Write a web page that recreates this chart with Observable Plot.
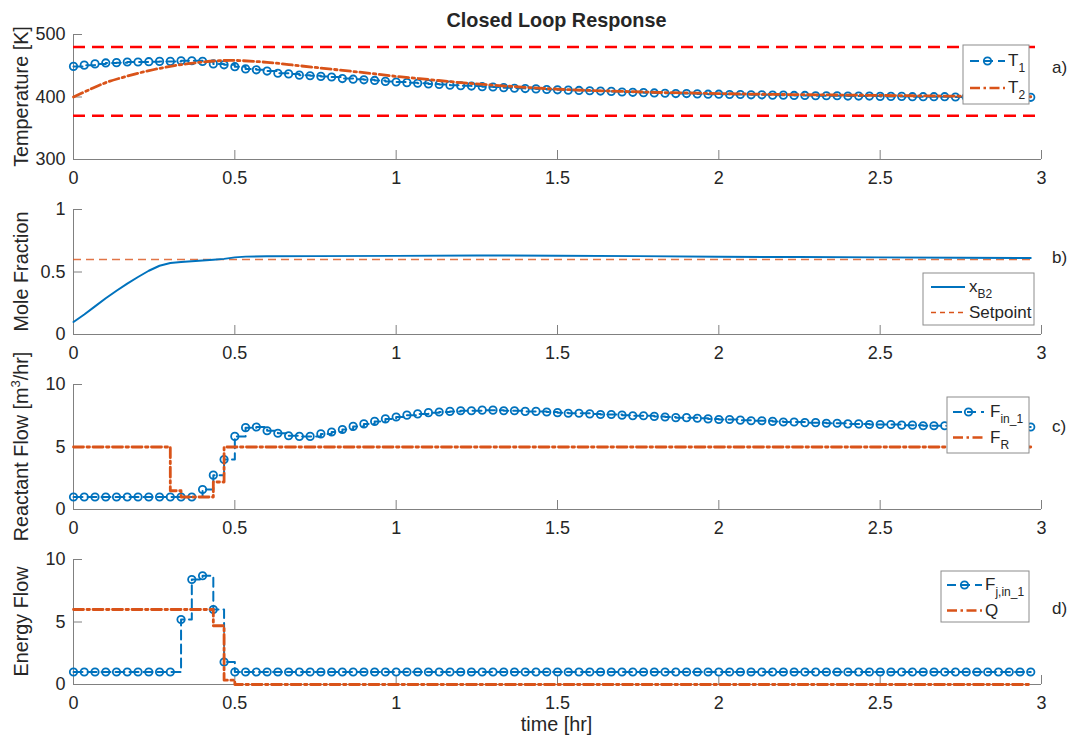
<!DOCTYPE html>
<html><head><meta charset="utf-8">
<script src="https://cdn.jsdelivr.net/npm/d3@7"></script>
<script src="https://cdn.jsdelivr.net/npm/@observablehq/plot@0.6"></script>
<style>
html,body{margin:0;padding:0;background:#fff;}
#fig{position:relative;width:1077px;height:742px;overflow:hidden;background:#fff;font-family:"Liberation Sans",Arial,sans-serif;}
#fig svg{position:absolute;left:0;}
</style></head><body><div id="fig"></div>
<script>
// ---------- data (time in minutes; plotted in hours) ----------
const sampleMinutes = [0,2,4,6,8,10,12,14,16,18,20,22,24,26,28,30,32,34,36,38,40,42,44,46,48,50,52,54,56,58,60,62,64,66,68,70,72,74,76,78,80,82,84,86,88,90,92,94,96,98,100,102,104,106,108,110,112,114,116,118,120,122,124,126,128,130,132,134,136,138,140,142,144,146,148,150,152,154,156,158,160,162,164,166,168,170,172,174,176,178];

const T1 = [449,451,453,454.5,455,456,456,456.5,457,457,
  458,458,457,453,451.5,448.5,445,443.5,441.5,438,
  437,435,434,433,432,429.5,428.5,427.5,426.5,425,
  424,423,422,421,420,419,418,417.5,416.5,416,
  415,414,413.5,413,412,411.5,411,410.5,410,409.5,
  409,408,407.5,407,406.5,406,405.5,405.5,405,404.5,
  404.5,404,404,403.5,403.5,403,403,402.5,402.5,402,
  402,402,401.5,401.5,401.5,401,401,401,400.5,400.5,
  400.5,400.5,400,400,400,400,399.5,399.5,399.5,399.5];

const T2Minutes = [0,3,6,9,12,15,18,21,24,27,30,36,42,48,54,60,66,72,78,84,90,96,102,108,114,120,132,144,156,168,178];
const T2 = [400,412,423,431,438,444,449,453,456,458,458.5,455.5,450,444.5,439,433,428,423,419,415.5,412.5,410.5,409,407.5,406.5,405.5,404,403,402,401,400.5];
const tempLimits = [480, 370];

const xB2Minutes = [0,2,4,6,8,10,12,14,16,18,20,22,24,26,28,30,32,36,45,60,75,90,105,120,135,150,165,178];
const xB2 = [0.10,0.16,0.225,0.29,0.35,0.407,0.46,0.51,0.55,0.572,0.58,0.586,0.592,0.598,0.605,0.617,0.623,0.626,0.627,0.629,0.632,0.631,0.627,0.622,0.62,0.617,0.614,0.612];
const setpoint = 0.6;

const Fin1 = [1,1,1,1,1,1,1,1,1,1,
  1,1,1.6,2.75,4.0,5.85,6.55,6.6,6.3,6.1,
  5.9,5.85,5.85,6.05,6.2,6.4,6.65,6.85,7.05,7.25,
  7.4,7.55,7.65,7.75,7.8,7.85,7.9,7.9,7.95,7.95,
  7.9,7.9,7.85,7.85,7.8,7.75,7.7,7.7,7.65,7.6,
  7.6,7.55,7.5,7.5,7.45,7.4,7.35,7.35,7.3,7.25,
  7.2,7.2,7.15,7.1,7.1,7.05,7.0,7.0,6.95,6.95,
  6.9,6.9,6.85,6.85,6.8,6.8,6.8,6.75,6.75,6.7,
  6.7,6.7,6.65,6.65,6.65,6.6,6.6,6.6,6.6,6.6];

const FR = [5,5,5,5,5,5,5,5,5,1.5,
  1,1,1,2.2,5,5,5,5,5,5,
  5,5,5,5,5,5,5,5,5,5,
  5,5,5,5,5,5,5,5,5,5,
  5,5,5,5,5,5,5,5,5,5,
  5,5,5,5,5,5,5,5,5,5,
  5,5,5,5,5,5,5,5,5,5,
  5,5,5,5,5,5,5,5,5,5,
  5,5,5,5,5,5,5,5,5,5];

const Fjin1 = [1,1,1,1,1,1,1,1,1,1,
  5.2,8.4,8.7,6.0,1.8,1,1,1,1,1,
  1,1,1,1,1,1,1,1,1,1,
  1,1,1,1,1,1,1,1,1,1,
  1,1,1,1,1,1,1,1,1,1,
  1,1,1,1,1,1,1,1,1,1,
  1,1,1,1,1,1,1,1,1,1,
  1,1,1,1,1,1,1,1,1,1,
  1,1,1,1,1,1,1,1,1,1];

const Q = [6,6,6,6,6,6,6,6,6,6,
  6,6,6,4.7,0.35,0,0,0,0,0,
  0,0,0,0,0,0,0,0,0,0,
  0,0,0,0,0,0,0,0,0,0,
  0,0,0,0,0,0,0,0,0,0,
  0,0,0,0,0,0,0,0,0,0,
  0,0,0,0,0,0,0,0,0,0,
  0,0,0,0,0,0,0,0,0,0,
  0,0,0,0,0,0,0,0,0,0];

const xTicks = [0,0.5,1,1.5,2,2.5,3];
const yTicksA = [300,400,500], yTicksB = [0,0.5,1], yTicksC = [0,5,10], yTicksD = [0,5,10];

// ---------- style ----------
const BLUE="#0072BD", ORANGE="#D95319", RED="#FF0000", AXIS="#808080", TEXT="#262626";
const W=1077, ML=73, MR=36, PH=125, PW=W-ML-MR;
const FONT='"Liberation Sans", Arial, sans-serif';
const DASH_BLUE="9,5", DASH_DOT="10,3.5,2.5,3.5";

const idx = d3.range(sampleMinutes.length);
const sx = i => sampleMinutes[i] / 60;
const stairs = (vals, color, width, dash) => Plot.line(idx, {x: sx, y: i => vals[i], curve: "step-after", stroke: color, strokeWidth: width, strokeDasharray: dash});
const markers = vals => Plot.dot(idx, {x: sx, y: i => vals[i], r: 3.7, stroke: BLUE, strokeWidth: 1.8, fill: "none"});
const smooth = (mins, vals, color, width, dash, curve) => Plot.line(d3.range(mins.length), {x: i => mins[i]/60, y: i => vals[i], stroke: color, strokeWidth: width, strokeDasharray: dash, curve: curve || "linear"});

function axes(yDomain, yTicks) {
  return [
    Plot.ruleX([0], {stroke: AXIS, strokeWidth: 1}),
    Plot.ruleY([yDomain[0]], {stroke: AXIS, strokeWidth: 1}),
    Plot.tickY(yTicks, {y: d => d, stroke: AXIS, strokeWidth: 1, insetRight: PW - 9}),
    Plot.tickX(xTicks, {x: d => d, stroke: AXIS, strokeWidth: 1, insetTop: PH - 9}),
    Plot.axisX(xTicks, {tickSize: 0, tickPadding: 12, tickFormat: d => String(d), fontSize: 18, fill: TEXT, label: null}),
    Plot.axisY(yTicks, {tickSize: 0, tickPadding: 8, tickFormat: d => String(d), fontSize: 18, fill: TEXT, label: null})
  ];
}

function panel(top, marginTop, marginBottom, yDomain, yTicks, marks) {
  const svg = Plot.plot({
    width: W, height: marginTop + PH + marginBottom,
    marginTop, marginBottom, marginLeft: ML, marginRight: MR,
    style: {fontFamily: FONT, fontSize: "18px", color: TEXT, background: "transparent", overflow: "visible"},
    x: {domain: [0, 3], label: null},
    y: {domain: yDomain, label: null},
    marks: [...axes(yDomain, yTicks), ...marks]
  });
  svg.style.top = top + "px";
  document.getElementById("fig").appendChild(svg);
  return svg;
}

function addText(svg, x, y, parts, opts = {}) {
  const t = d3.select(svg).append("text")
    .attr("x", x).attr("y", y)
    .attr("font-family", FONT).attr("font-size", opts.size || 17)
    .attr("fill", TEXT).attr("text-anchor", opts.anchor || "start");
  if (opts.dy) t.attr("dy", opts.dy);
  if (opts.bold) t.attr("font-weight", "bold");
  if (opts.transform) t.attr("transform", opts.transform).attr("x", 0).attr("y", 0);
  parts.forEach(p => {
    if (typeof p === "string") t.append("tspan").text(p);
    else t.append("tspan").attr("font-size", p.size).attr("dy", p.dy).text(p.t);
  });
  return t;
}

function yLabel(svg, marginTop, parts) {
  addText(svg, 0, 0, parts, {size: 19.8, anchor: "middle", transform: `translate(28,${marginTop + PH/2}) rotate(-90)`});
}

function legend(svg, box, rows) {
  const g = d3.select(svg).append("g");
  g.append("rect").attr("x", box.x).attr("y", box.y).attr("width", box.w).attr("height", box.h)
    .attr("fill", "white").attr("stroke", "#8c8c8c").attr("stroke-width", 1);
  rows.forEach(r => {
    g.append("line").attr("x1", box.s1).attr("x2", box.s2).attr("y1", r.y).attr("y2", r.y)
      .attr("stroke", r.color).attr("stroke-width", r.width).attr("stroke-dasharray", r.dash || null);
    if (r.marker) g.append("circle").attr("cx", (box.s1 + box.s2) / 2).attr("cy", r.y).attr("r", 3.7)
      .attr("fill", "none").attr("stroke", BLUE).attr("stroke-width", 1.8);
    const t = g.append("text").attr("x", box.tx).attr("y", r.y).attr("dy", "0.3em")
      .attr("text-anchor", "start")
      .attr("font-family", FONT).attr("font-size", 17).attr("fill", TEXT);
    t.append("tspan").text(r.main);
    if (r.sub) t.append("tspan").attr("font-size", 12).attr("dy", 6).text(r.sub);
  });
}

// ---------- panel a ----------
const svgA = panel(0, 34, 40, [300, 500], yTicksA, [
  stairs(T1, BLUE, 2, DASH_BLUE),
  markers(T1),
  smooth(T2Minutes, T2, ORANGE, 2.8, DASH_DOT, "catmull-rom"),
  Plot.ruleY(tempLimits, {stroke: RED, strokeWidth: 2.5, strokeDasharray: "12,7"})
]);
addText(svgA, 556.5, 26.5, ["Closed Loop Response"], {size: 19.8, bold: true, anchor: "middle"});
yLabel(svgA, 34, ["Temperature [K]"]);
addText(svgA, 1052, 67, ["a)"], {size: 17, dy: "0.35em"});
legend(svgA, {x: 963, y: 45, w: 66, h: 59, s1: 970, s2: 1005, tx: 1008}, [
  {y: 61, color: BLUE, width: 2, dash: DASH_BLUE, marker: true, main: "T", sub: "1"},
  {y: 88, color: ORANGE, width: 2.5, dash: DASH_DOT, main: "T", sub: "2"}
]);

// ---------- panel b ----------
const svgB = panel(199, 10, 40, [0, 1], yTicksB, [
  Plot.ruleY([setpoint], {x1: 0, x2: sampleMinutes[sampleMinutes.length - 1] / 60, stroke: ORANGE, strokeOpacity: 0.8, strokeWidth: 1.5, strokeDasharray: "8,5"}),
  smooth(xB2Minutes, xB2, BLUE, 2, null, "linear")
]);
yLabel(svgB, 10, ["Mole Fraction"]);
addText(svgB, 1052, 58, ["b)"], {size: 17, dy: "0.35em"});
legend(svgB, {x: 923, y: 74, w: 111, h: 52, s1: 931, s2: 965, tx: 969}, [
  {y: 88, color: BLUE, width: 2, main: "x", sub: "B2"},
  {y: 113.5, color: ORANGE, width: 1.5, dash: "5,4", main: "Setpoint"}
]);

// ---------- panel c ----------
const svgC = panel(374, 10, 40, [0, 10], yTicksC, [
  stairs(Fin1, BLUE, 2, DASH_BLUE),
  markers(Fin1),
  stairs(FR, ORANGE, 2.8, DASH_DOT)
]);
yLabel(svgC, 10, ["Reactant Flow [m", {t: "3", size: 13, dy: -8}, {t: "/hr]", size: 19.8, dy: 8}]);
addText(svgC, 1052, 52.5, ["c)"], {size: 17, dy: "0.35em"});
legend(svgC, {x: 947, y: 23, w: 82, h: 56, s1: 953, s2: 984, tx: 990}, [
  {y: 38, color: BLUE, width: 2, dash: DASH_BLUE, marker: true, main: "F", sub: "in_1"},
  {y: 63.5, color: ORANGE, width: 2.5, dash: DASH_DOT, main: "F", sub: "R"}
]);

// ---------- panel d ----------
const svgD = panel(549, 10, 60, [0, 10], yTicksD, [
  stairs(Fjin1, BLUE, 2, DASH_BLUE),
  markers(Fjin1),
  stairs(Q, ORANGE, 2.8, DASH_DOT)
]);
yLabel(svgD, 10, ["Energy Flow"]);
addText(svgD, 1052, 59, ["d)"], {size: 17, dy: "0.35em"});
addText(svgD, 556.5, 182, ["time [hr]"], {size: 19.8, anchor: "middle"});
legend(svgD, {x: 941, y: 22, w: 88, h: 51, s1: 947, s2: 982, tx: 985}, [
  {y: 36, color: BLUE, width: 2, dash: DASH_BLUE, marker: true, main: "F", sub: "j,in_1"},
  {y: 61.5, color: ORANGE, width: 2.5, dash: DASH_DOT, main: "Q"}
]);
</script></body></html>
